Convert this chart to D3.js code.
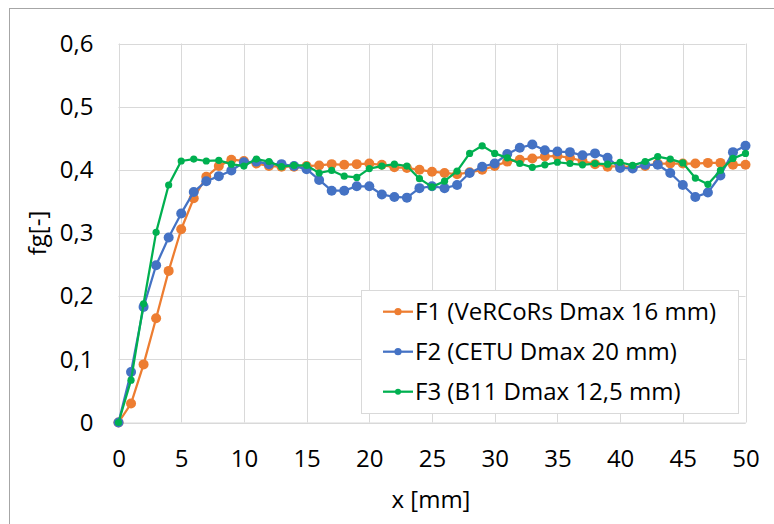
<!DOCTYPE html>
<html>
<head>
<meta charset="utf-8">
<script src="https://cdn.jsdelivr.net/npm/d3@7"></script>
<style>
  body { margin: 0; background: #fff; }
  text { font-family: "Open Sans", sans-serif; fill: #000; }
</style>
</head>
<body>
<svg id="chart" width="774" height="524"></svg>
<script>
// x positions in mm
var xs = d3.range(0, 51);

// F1 (VeRCoRs Dmax 16 mm)
var f1 = [0, 0.030, 0.092, 0.165, 0.240, 0.306, 0.355, 0.389, 0.406, 0.416,
  0.414, 0.410, 0.406, 0.405, 0.405, 0.406, 0.407, 0.409, 0.408, 0.409,
  0.410, 0.408, 0.404, 0.403, 0.400, 0.397, 0.395, 0.393, 0.396, 0.400,
  0.406, 0.413, 0.416, 0.418, 0.421, 0.422, 0.419, 0.414, 0.409, 0.405,
  0.406, 0.404, 0.406, 0.410, 0.410, 0.410, 0.410, 0.411, 0.411, 0.408,
  0.408];

// F2 (CETU Dmax 20 mm)
var f2 = [0, 0.080, 0.183, 0.249, 0.293, 0.331, 0.365, 0.382, 0.390, 0.399,
  0.412, 0.413, 0.409, 0.409, 0.406, 0.401, 0.384, 0.367, 0.367, 0.374,
  0.374, 0.361, 0.357, 0.356, 0.371, 0.374, 0.371, 0.376, 0.395, 0.405,
  0.410, 0.425, 0.435, 0.440, 0.431, 0.429, 0.428, 0.423, 0.426, 0.419,
  0.403, 0.402, 0.408, 0.408, 0.395, 0.376, 0.357, 0.364, 0.391, 0.428,
  0.438];

// F3 (B11 Dmax 12,5 mm)
var f3 = [0, 0.067, 0.188, 0.301, 0.376, 0.414, 0.417, 0.414, 0.415, 0.409,
  0.406, 0.417, 0.413, 0.405, 0.407, 0.407, 0.395, 0.399, 0.390, 0.388,
  0.402, 0.406, 0.409, 0.406, 0.386, 0.373, 0.382, 0.398, 0.426, 0.438,
  0.426, 0.419, 0.410, 0.404, 0.408, 0.412, 0.410, 0.408, 0.410, 0.409,
  0.412, 0.407, 0.413, 0.421, 0.417, 0.411, 0.387, 0.377, 0.399, 0.418,
  0.426];

var seriesNames = ["F1 (VeRCoRs Dmax 16 mm)", "F2 (CETU Dmax 20 mm)", "F3 (B11 Dmax 12,5 mm)"];
var seriesColors = ["#ED7D31", "#4472C4", "#00B050"];
var xTicks = d3.range(0, 51, 5);
var yTicks = [0, 0.1, 0.2, 0.3, 0.4, 0.5, 0.6];

var svg = d3.select("#chart");

// outer chart border (only left/top fall inside the picture)
svg.append("rect")
  .attr("x", 9.5).attr("y", 8.5)
  .attr("width", 900).attr("height", 700)
  .attr("fill", "none").attr("stroke", "#a6a6a6");

var x = d3.scaleLinear().domain([0, 50]).range([118.5, 745.5]);
var y = d3.scaleLinear().domain([0, 0.6]).range([422.5, 43.5]);

var fmt = function(d) { return d3.format(".1f")(d).replace(".", ","); };

// gridlines
var grid = svg.append("g");
grid.selectAll(".gx").data(xTicks).enter().append("line")
  .attr("x1", function(d) { return Math.round(x(d)) + 0.5; })
  .attr("x2", function(d) { return Math.round(x(d)) + 0.5; })
  .attr("y1", y(0.6)).attr("y2", y(0))
  .attr("stroke", "#d9d9d9");
grid.selectAll(".gy").data(yTicks).enter().append("line")
  .attr("x1", x(0)).attr("x2", x(50))
  .attr("y1", function(d) { return Math.round(y(d)) + 0.5; })
  .attr("y2", function(d) { return Math.round(y(d)) + 0.5; })
  .attr("stroke", "#d9d9d9");

// axes (labels only, Excel style)
var xAxis = svg.append("g")
  .attr("transform", "translate(0," + y(0) + ")")
  .call(d3.axisBottom(x).tickValues(xTicks).tickSize(0).tickPadding(27).tickFormat(d3.format("d")));
xAxis.select(".domain").attr("stroke", "#d9d9d9");
xAxis.selectAll("text").style("font-size", "24px").style("font-family", "Open Sans");

var yAxis = svg.append("g")
  .attr("transform", "translate(" + x(0) + ",0)")
  .call(d3.axisLeft(y).tickValues(yTicks).tickSize(0).tickPadding(25)
    .tickFormat(function(d) { return d === 0 ? "0" : fmt(d); }));
yAxis.select(".domain").remove();
yAxis.selectAll("text").style("font-size", "24px").style("font-family", "Open Sans");

// axis titles
svg.append("text")
  .attr("x", 431).attr("y", 500).attr("dy", "0.35em")
  .attr("text-anchor", "middle").style("font-size", "24px")
  .text("x [mm]");
svg.append("text")
  .attr("transform", "translate(38,233) rotate(-90)")
  .attr("dy", "0.35em")
  .attr("text-anchor", "middle").style("font-size", "24px")
  .text("fg[-]");

// series
var allSeries = [f1, f2, f3];
var radii = [5, 5, 3.6];
var line = d3.line()
  .x(function(d, i) { return x(xs[i]); })
  .y(function(d) { return y(d); });

allSeries.forEach(function(vals, k) {
  var g = svg.append("g");
  g.append("path")
    .datum(vals)
    .attr("d", line)
    .attr("fill", "none")
    .attr("stroke", seriesColors[k])
    .attr("stroke-width", 2.25)
    .attr("stroke-linejoin", "round");
  g.selectAll("circle").data(vals).enter().append("circle")
    .attr("cx", function(d, i) { return x(xs[i]); })
    .attr("cy", function(d) { return y(d); })
    .attr("r", radii[k])
    .attr("fill", seriesColors[k]);
});

// legend
var legend = svg.append("g");
legend.append("rect")
  .attr("x", 361.5).attr("y", 290.5)
  .attr("width", 377).attr("height", 123)
  .attr("fill", "#fff").attr("stroke", "#d9d9d9");

var items = legend.selectAll(".item").data(seriesNames).enter().append("g")
  .attr("transform", function(d, i) { return "translate(0," + (311.7 + i * 40) + ")"; });
items.append("line")
  .attr("x1", 383).attr("x2", 413)
  .attr("stroke", function(d, i) { return seriesColors[i]; })
  .attr("stroke-width", 2.25);
items.append("circle")
  .attr("cx", 398).attr("r", function(d, i) { return i === 2 ? 3 : 3.6; })
  .attr("fill", function(d, i) { return seriesColors[i]; });
items.append("text")
  .attr("x", 415).attr("dy", "0.35em")
  .style("font-size", "24px")
  .text(function(d) { return d; });
</script>
</body>
</html>
